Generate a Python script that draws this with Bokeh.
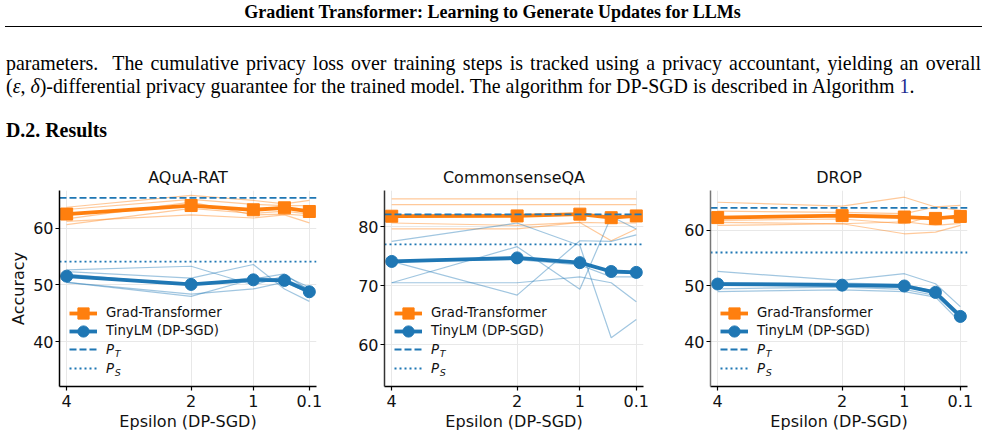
from bokeh.core.properties import value
from bokeh.embed import file_html
from bokeh.layouts import column, row
from bokeh.models import Div, FixedTicker, Label, Legend, LegendItem, Range1d
from bokeh.plotting import figure
from bokeh.resources import INLINE

# ---------------------------------------------------------------- data
epsilons = [4, 2, 1, 0.5, 0.1]
eps_ticks = [4, 2, 1, 0.1]
eps_tick_labels = ["4", "2", "1", "0.1"]
acc_ticks = [40, 50, 60, 70, 80]

# AQuA-RAT
aqua_grad = [62.5, 64.0, 63.25, 63.6, 62.95]
aqua_tiny = [51.55, 50.1, 50.9, 50.8, 48.8]
aqua_pt = 65.35
aqua_ps = 54.1
aqua_grad_runs = [
    [63.7, 65.8, 64.9, 64.3, 64.9],
    [63.3, 65.1, 64.2, 64.0, 64.0],
    [61.65, 64.6, 62.35, 62.5, 62.2],
    [61.2, 62.35, 61.8, 62.35, 60.95],
    [60.65, 63.5, 62.6, 63.0, 62.5],
]
aqua_tiny_runs = [
    [52.65, 53.3, 50.0, 51.6, 49.6],
    [52.35, 51.2, 53.6, 49.3, 47.1],
    [50.45, 48.0, 51.05, 51.95, 49.0],
    [50.45, 48.4, 49.3, 50.5, 48.6],
    [51.9, 50.0, 51.3, 51.0, 49.3],
]

# CommonsenseQA
csqa_grad = [81.75, 81.8, 82.1, 81.5, 81.8]
csqa_tiny = [74.1, 74.7, 73.9, 72.4, 72.25]
csqa_pt = 82.05
csqa_ps = 77.0
csqa_grad_runs = [
    [84.7, 84.7, 84.7, 84.7, 84.7],
    [83.7, 83.7, 83.7, 83.7, 83.7],
    [80.6, 80.2, 80.7, 80.6, 80.6],
    [79.6, 79.6, 80.7, 77.6, 79.6],
]
csqa_tiny_runs = [
    [77.5, 80.6, 76.8, 61.2, 64.3],
    [74.1, 68.4, 77.6, 77.5, 78.6],
    [70.5, 76.6, 69.4, 81.7, 79.6],
    [70.5, 70.5, 71.5, 70.5, 67.3],
    [74.1, 74.4, 73.5, 71.5, 71.5],
]

# DROP
drop_grad = [62.25, 62.6, 62.35, 62.1, 62.45]
drop_tiny = [50.35, 50.15, 50.0, 48.85, 44.55]
drop_pt = 64.0
drop_ps = 56.0
drop_grad_runs = [
    [65.0, 64.3, 65.9, 64.15, 63.55],
    [63.4, 63.2, 62.95, 64.15, 64.45],
    [61.75, 62.0, 61.15, 62.65, 61.75],
    [60.85, 61.15, 59.35, 59.65, 60.85],
    [61.4, 61.15, 61.5, 60.85, 61.2],
]
drop_tiny_runs = [
    [52.6, 51.0, 52.2, 50.4, 46.3],
    [50.6, 50.5, 50.3, 49.0, 45.0],
    [49.5, 49.8, 49.4, 48.3, 44.3],
    [49.0, 49.3, 49.0, 48.0, 43.5],
]

# ---------------------------------------------------------------- style
ORANGE = "#ff7f0e"
BLUE = "#1f77b4"
FONT = "DejaVu Sans"
TEXT = "#111111"
X_LIM = (4.115, -0.015)          # reversed epsilon axis
PANEL_H = 281

# legend rows: one single-item legend per row (screen px inside the frame)
LEG_X = 10
GLYPH_W, GLYPH_H = 28, 30
LABEL_GAP = 9
LEG_FONT_PX = 13.3
ROW_CENTERS = [73.5, 55.5, 37, 18]


def add_legend_row(p, renderers, row_i, label, italic=False, sub=None):
    c = ROW_CENTERS[row_i]
    leg = Legend(
        items=[LegendItem(label=value(label), renderers=renderers)],
        location=(LEG_X, c - GLYPH_H / 2), padding=0, margin=0, spacing=0,
        label_height=14, glyph_height=GLYPH_H, glyph_width=GLYPH_W,
        label_standoff=LABEL_GAP, label_text_font=FONT,
        label_text_font_size=f"{LEG_FONT_PX}px",
        label_text_font_style="italic" if italic else "normal",
        label_text_color=TEXT, background_fill_alpha=0, border_line_alpha=0,
    )
    p.add_layout(leg)
    if sub:
        p.add_layout(Label(x=LEG_X + GLYPH_W + LABEL_GAP + 0.62 * LEG_FONT_PX, y=c - 4,
                           x_units="screen", y_units="screen", text=sub,
                           text_font=FONT, text_font_style="italic",
                           text_font_size="9.5px", text_baseline="middle",
                           text_color=TEXT))


def make_panel(name, grad, grad_runs, tiny, tiny_runs, p_t, p_s, y_lim,
               width, border_left, border_right, y_label=None, spine="#000000"):
    p = figure(width=width, height=PANEL_H, output_backend="svg", toolbar_location=None,
               x_range=Range1d(*X_LIM), y_range=Range1d(*y_lim),
               min_border_left=border_left, min_border_right=border_right,
               min_border_top=35, min_border_bottom=50,
               outline_line_color=None, background_fill_color="white",
               border_fill_color="white")

    p.title.text = name
    p.title.align = "center"
    p.title.text_font = FONT
    p.title.text_font_size = "16px"
    p.title.text_font_style = "normal"
    p.title.text_color = TEXT
    p.title.standoff = 7

    # individual runs
    for run in grad_runs:
        p.line(epsilons, run, line_color=ORANGE, line_alpha=0.42, line_width=1.2)
    for run in tiny_runs:
        p.line(epsilons, run, line_color=BLUE, line_alpha=0.42, line_width=1.2)

    # averaged curves
    g_line = p.line(epsilons, grad, line_color=ORANGE, line_width=3.8, line_join="round")
    g_mark = p.scatter(epsilons, grad, marker="square", size=12,
                       fill_color=ORANGE, line_color=ORANGE)
    t_line = p.line(epsilons, tiny, line_color=BLUE, line_width=3.8, line_join="round")
    t_mark = p.scatter(epsilons, tiny, marker="circle", size=12,
                       fill_color=BLUE, line_color=BLUE)

    # reference levels across the whole axis
    pt_line = p.line(list(X_LIM), [p_t, p_t], line_color=BLUE, line_width=1.8, line_dash="7 3")
    ps_line = p.line(list(X_LIM), [p_s, p_s], line_color=BLUE, line_width=1.8, line_dash="2 3")

    # axes
    p.xaxis.ticker = FixedTicker(ticks=eps_ticks)
    overrides = {}
    for t, lab in zip(eps_ticks, eps_tick_labels):
        overrides[t] = lab
        overrides[str(t)] = lab
    p.xaxis.major_label_overrides = overrides
    p.yaxis.ticker = FixedTicker(ticks=acc_ticks)
    p.xgrid.ticker = FixedTicker(ticks=eps_ticks)
    p.ygrid.ticker = FixedTicker(ticks=acc_ticks)
    p.grid.grid_line_color = "#e8e8e8"
    p.grid.grid_line_width = 1

    for ax in (p.xaxis[0], p.yaxis[0]):
        ax.axis_line_width = 1.5
        ax.major_tick_line_color = "#000000"
        ax.major_tick_line_width = 1.2
        ax.major_tick_out = 4
        ax.major_tick_in = 0
        ax.minor_tick_out = 0
        ax.minor_tick_in = 0
        ax.major_label_text_font = FONT
        ax.major_label_text_font_size = "16px"
        ax.major_label_text_color = TEXT
        ax.axis_label_text_font = FONT
        ax.axis_label_text_font_size = "16px"
        ax.axis_label_text_font_style = "normal"
        ax.axis_label_text_color = TEXT
    p.xaxis.axis_line_color = "#000000"
    p.yaxis.axis_line_color = spine
    p.xaxis.axis_label = "Epsilon (DP-SGD)"
    p.xaxis.major_label_standoff = 4
    p.xaxis.axis_label_standoff = 2
    p.yaxis.major_label_standoff = 2
    if y_label:
        p.yaxis.axis_label = y_label
        p.yaxis.axis_label_standoff = 2

    add_legend_row(p, [g_line, g_mark], 0, "Grad-Transformer")
    add_legend_row(p, [t_line, t_mark], 1, "TinyLM (DP-SGD)")
    add_legend_row(p, [pt_line], 2, "P", italic=True, sub="T")
    add_legend_row(p, [ps_line], 3, "P", italic=True, sub="S")
    return p


f1 = make_panel("AQuA-RAT", aqua_grad, aqua_grad_runs, aqua_tiny, aqua_tiny_runs,
                aqua_pt, aqua_ps, (32.1, 66.65), 330, 59, 14, y_label="Accuracy",
                spine="#000000")
f2 = make_panel("CommonsenseQA", csqa_grad, csqa_grad_runs, csqa_tiny, csqa_tiny_runs,
                csqa_pt, csqa_ps, (52.95, 86.1), 325, 54, 12, spine="#333333")
f3 = make_panel("DROP", drop_grad, drop_grad_runs, drop_tiny, drop_tiny_runs,
                drop_pt, drop_ps, (32.0, 67.1), 330, 55, 18, spine="#777777")

# ---------------------------------------------------------------- page text
running_title = "Gradient Transformer: Learning to Generate Updates for LLMs"
para_line1 = ("parameters.&nbsp; The cumulative privacy loss over training steps is tracked "
              "using a privacy accountant, yielding an overall")
para_line2 = ('(<i>&epsilon;</i>, <i>&delta;</i>)-differential privacy guarantee for the trained '
              'model. The algorithm for DP-SGD is described in Algorithm '
              '<span style="color:#1a2a8f">1</span>.')
section_title = "D.2. Results"

header_html = f"""
<div style="position:relative;width:985px;height:155px;overflow:hidden;
            font-family:'Liberation Serif','Times New Roman',serif;color:#000;">
  <div style="position:absolute;left:0;top:2px;width:985px;text-align:center;
              font-weight:bold;font-size:18px;line-height:20px;">{running_title}</div>
  <div style="position:absolute;left:5px;top:26px;width:977px;height:0;
              border-top:1.3px solid #000;"></div>
  <div style="position:absolute;left:6px;top:52px;width:975px;font-size:19.9px;
              line-height:23px;text-align:justify;text-align-last:justify;">{para_line1}</div>
  <div style="position:absolute;left:6px;top:75px;width:975px;font-size:19.9px;
              line-height:23px;text-align:left;">{para_line2}</div>
  <div style="position:absolute;left:6px;top:119px;font-size:19.9px;font-weight:bold;
              line-height:23px;">{section_title}</div>
</div>
"""
header = Div(text=header_html, width=985, height=155, margin=(0, 0, 0, 0))

page = column(header, row(f1, f2, f3, spacing=0), spacing=0)
open("out.html", "w").write(file_html(page, INLINE))
